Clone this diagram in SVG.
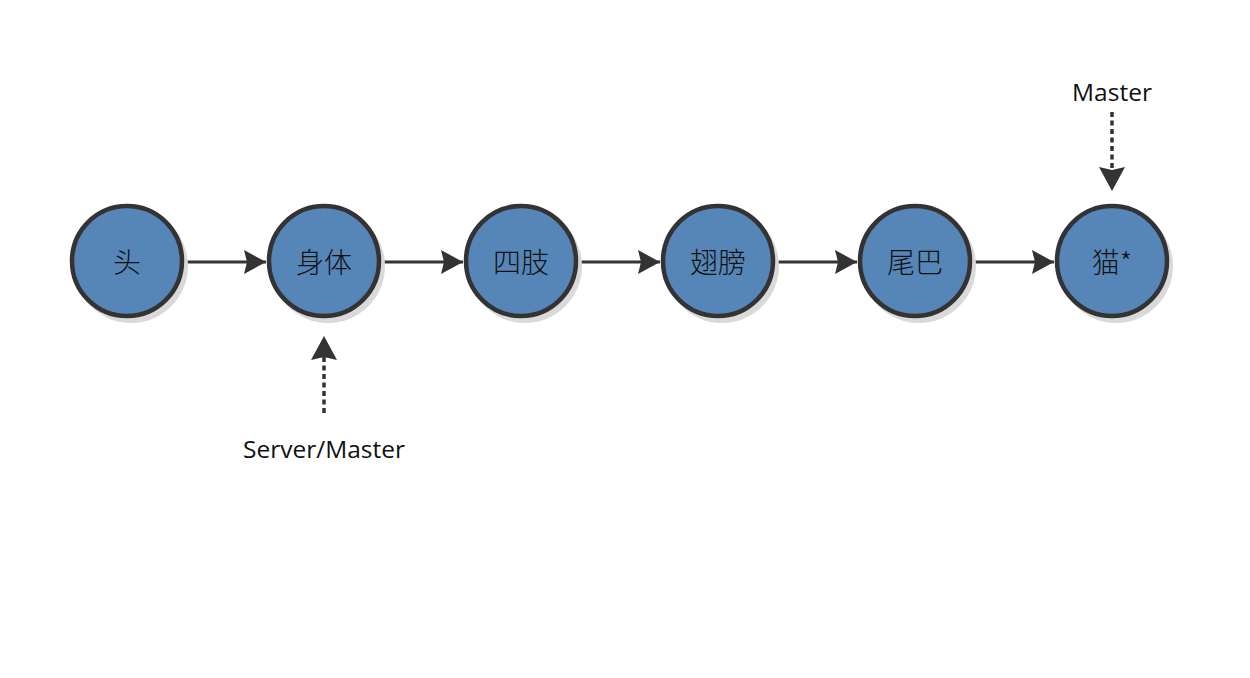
<svg xmlns="http://www.w3.org/2000/svg" width="1250" height="678" viewBox="0 0 1250 678">
<style>
.node{fill:#5686b8;stroke:#333333;stroke-width:4.5}
.shadow{fill:#d9d9d9}
.lbl{font-family:"Noto Sans CJK SC","Liberation Sans",sans-serif;font-size:28px;font-weight:300;fill:#111;text-anchor:middle;dominant-baseline:central}
.ann{font-family:"Open Sans","Liberation Sans",sans-serif;font-size:24.5px;fill:#111;text-anchor:middle}
.edge{stroke:#333333;stroke-width:3;fill:none}
.dash{stroke:#333333;stroke-width:3.5;fill:none;stroke-dasharray:5 3.5}
</style>
<defs>
<marker id="ah" markerUnits="userSpaceOnUse" markerWidth="24" markerHeight="26" refX="22" refY="12" orient="auto" viewBox="0 0 24 24">
<path d="M0,0 L22,12 L0,24 L3,12 Z" fill="#333333"/>
</marker>
</defs>
<rect width="1250" height="678" fill="#ffffff"/>
<g id="connectors">
<line class="edge" x1="184" y1="262" x2="266" y2="262" marker-end="url(#ah)"/>
<line class="edge" x1="381" y1="262" x2="463" y2="262" marker-end="url(#ah)"/>
<line class="edge" x1="578" y1="262" x2="660" y2="262" marker-end="url(#ah)"/>
<line class="edge" x1="775" y1="262" x2="857" y2="262" marker-end="url(#ah)"/>
<line class="edge" x1="972" y1="262" x2="1054" y2="262" marker-end="url(#ah)"/>
<line class="dash" x1="324" y1="413" x2="324" y2="354"/>
<path d="M324,336 L337,360 L324,357 L311,360 Z" fill="#333333"/>
<line class="dash" x1="1112" y1="112" x2="1112" y2="172"/>
<path d="M1112,191 L1099,167 L1112,170 L1125,167 Z" fill="#333333"/>
</g>
<g id="n1"><circle class="shadow" cx="131" cy="266" r="57"/><circle class="node" cx="127" cy="261" r="55"/><text class="lbl" x="127" y="261">头</text></g>
<g id="n2"><circle class="shadow" cx="328" cy="266" r="57"/><circle class="node" cx="324" cy="261" r="55"/><text class="lbl" x="324" y="261">身体</text></g>
<g id="n3"><circle class="shadow" cx="525" cy="266" r="57"/><circle class="node" cx="521" cy="261" r="55"/><text class="lbl" x="521" y="261">四肢</text></g>
<g id="n4"><circle class="shadow" cx="722" cy="266" r="57"/><circle class="node" cx="718" cy="261" r="55"/><text class="lbl" x="718" y="261">翅膀</text></g>
<g id="n5"><circle class="shadow" cx="919" cy="266" r="57"/><circle class="node" cx="915" cy="261" r="55"/><text class="lbl" x="915" y="261">尾巴</text></g>
<g id="n6"><circle class="shadow" cx="1116" cy="266" r="57"/><circle class="node" cx="1112" cy="261" r="55"/><text class="lbl" x="1112" y="261">猫*</text></g>
<g id="label-server"><text class="ann" x="324" y="458">Server/Master</text></g>
<g id="label-master"><text class="ann" x="1112" y="101">Master</text></g>
</svg>
